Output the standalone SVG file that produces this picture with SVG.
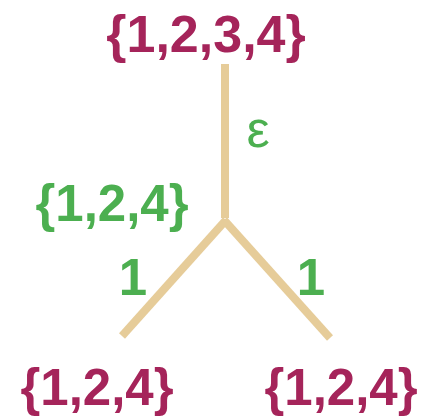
<svg xmlns="http://www.w3.org/2000/svg" width="421" height="416" viewBox="0 0 421 416">
<style>
.set{font-family:"Liberation Sans",Arial,sans-serif;font-weight:bold;font-size:52px;}
.m{fill:#A5245A;}
.g{fill:#4CAF50;}
.lbl{font-family:"Liberation Sans",Arial,sans-serif;font-weight:bold;font-size:51px;fill:#4CAF50;}
.e{font-family:"Liberation Sans",Arial,sans-serif;font-size:52px;fill:#4CAF50;}
.edge{stroke:#E6CC99;stroke-width:8;fill:none;}
</style>
<rect width="421" height="416" fill="#fff"/>
<g id="connectors">
<line class="edge" x1="225" y1="64" x2="225" y2="218"/>
<line class="edge" x1="226" y1="220" x2="122" y2="336"/>
<line class="edge" x1="224" y1="220" x2="330" y2="338"/>
</g>
<g id="edge-labels">
<text class="e" x="258" y="147" text-anchor="middle">ε</text>
<text class="lbl" x="133" y="295" text-anchor="middle">1</text>
<text class="lbl" x="311" y="295" text-anchor="middle">1</text>
</g>
<g id="root"><text class="set m" x="206" y="52" text-anchor="middle">{1,2,3,4}</text></g>
<g id="mid"><text class="set g" x="112" y="221" text-anchor="middle" style="font-size:51px">{1,2,4}</text></g>
<g id="left"><text class="set m" x="97" y="405" text-anchor="middle" style="font-size:51px">{1,2,4}</text></g>
<g id="right"><text class="set m" x="341" y="405" text-anchor="middle" style="font-size:51px">{1,2,4}</text></g>
</svg>
